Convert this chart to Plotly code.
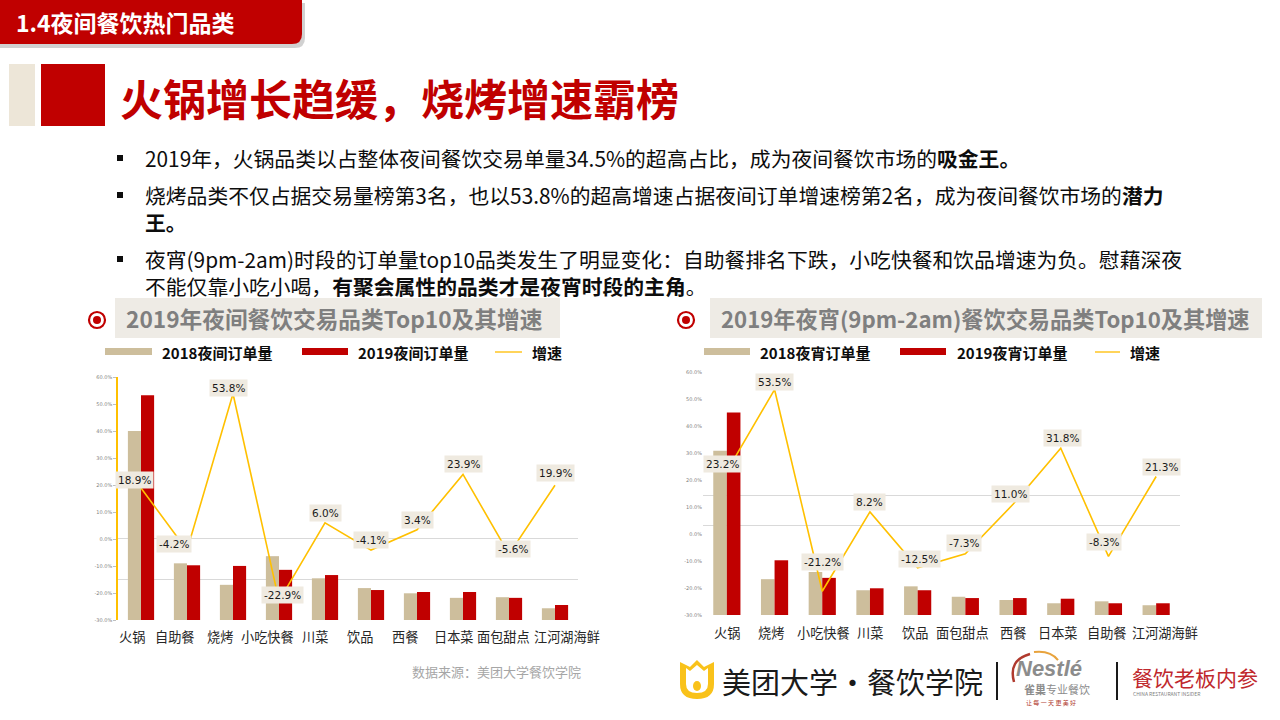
import plotly.graph_objects as go

# ---------------- data ----------------
cats_night = ["火锅", "自助餐", "烧烤", "小吃快餐", "川菜", "饮品", "西餐", "日本菜", "面包甜点", "江河湖海鲜"]
night_2018 = [29.0, 8.7, 5.4, 9.8, 6.4, 4.9, 4.1, 3.4, 3.5, 1.8]
night_2019 = [34.5, 8.4, 8.3, 7.7, 6.9, 4.6, 4.3, 4.3, 3.4, 2.3]
night_growth = [18.9, -4.2, 53.8, -22.9, 6.0, -4.1, 3.4, 23.9, -5.6, 19.9]

cats_late = ["火锅", "烧烤", "小吃快餐", "川菜", "饮品", "面包甜点", "西餐", "日本菜", "自助餐", "江河湖海鲜"]
late_2018 = [25.2, 5.5, 6.6, 3.8, 4.4, 2.8, 2.3, 1.8, 2.1, 1.5]
late_2019 = [31.1, 8.4, 5.7, 4.1, 3.8, 2.6, 2.6, 2.5, 1.8, 1.8]
late_growth = [23.2, 53.5, -21.2, 8.2, -12.5, -7.3, 11.0, 31.8, -8.3, 21.3]

pct_ticks = [60, 50, 40, 30, 20, 10, 0, -10, -20, -30]

# label offsets (style)
night_dx = [-7, -13, -5, 3, 0, 0, 0, 0, 4, 0]
night_dy = [8, 6, 6, 6, 10, 10, 10, 10, 5, 12]
late_dx = [-4, 0, 0, 0, 2, -1, -3, 2, -4, 5]
late_dy = [7, 8, 29, 10, 9, 11, 10, 10, 14, 9]
night_cat_dx = [-9, -12, -13, -12, -10, -11, -12, -9, -6, 12]
late_cat_dx = [0, -4, 1, 0, -3, -3, 0, -3, -1, 9]

TAN = "#CDBE9C"
RED = "#C00000"
GOLD = "#FFC000"
CJK = "Noto Sans CJK SC"
W, H = 1280, 720


def px(x):
    return x / W


def py(y):
    return 1 - y / H


fig = go.Figure()

# left chart
fig.add_bar(x=cats_night, y=night_2018, name="2018夜间订单量", marker_color=TAN,
            marker_line_width=0, xaxis="x", yaxis="y")
fig.add_bar(x=cats_night, y=night_2019, name="2019夜间订单量", marker_color=RED,
            marker_line_width=0, xaxis="x", yaxis="y")
fig.add_scatter(x=cats_night, y=night_growth, name="增速", mode="lines",
                line=dict(color=GOLD, width=1.6), xaxis="x", yaxis="y2", cliponaxis=False)
# right chart
fig.add_bar(x=cats_late, y=late_2018, name="2018夜宵订单量", marker_color=TAN,
            marker_line_width=0, xaxis="x2", yaxis="y3")
fig.add_bar(x=cats_late, y=late_2019, name="2019夜宵订单量", marker_color=RED,
            marker_line_width=0, xaxis="x2", yaxis="y3")
fig.add_scatter(x=cats_late, y=late_growth, name="增速", mode="lines",
                line=dict(color=GOLD, width=1.6), xaxis="x2", yaxis="y4", cliponaxis=False)

pct_font = dict(family="DejaVu Sans", size=5, color="#7F7F7F")
common_x = dict(showline=False, ticks="", showticklabels=False, showgrid=False,
                automargin=False, tickangle=0, type="category", range=[-0.5, 9.5],
                autorange=False)

fig.update_layout(
    width=W, height=H, margin=dict(l=0, r=0, t=0, b=0, autoexpand=False),
    paper_bgcolor="white", plot_bgcolor="rgba(0,0,0,0)",
    showlegend=False, barmode="group", bargap=0.43, bargroupgap=0,
    xaxis=dict(domain=[px(118), px(578)], anchor="y", **common_x),
    yaxis=dict(domain=[py(620), py(377)], anchor="x", range=[0, 37.3],
               tickvals=[6.25, 12.5, 37.3], showticklabels=False, gridcolor="#D9D9D9",
               gridwidth=1, zeroline=False, showline=False, automargin=False),
    yaxis2=dict(overlaying="y", anchor="x", side="left", range=[-30, 60],
                tickvals=pct_ticks, ticktext=[f"{v:.1f}%" for v in pct_ticks],
                tickfont=pct_font, showgrid=False, zeroline=False, showline=True,
                linecolor=GOLD, linewidth=1.5, ticks="outside", ticklen=3,
                tickcolor="#BFBFBF", automargin=False),
    xaxis2=dict(domain=[px(703), px(1180)], anchor="y3", **common_x),
    yaxis3=dict(domain=[py(615), py(372)], anchor="x2", range=[0, 37.3],
                tickvals=[13.8, 18.4], showticklabels=False, gridcolor="#D9D9D9",
                gridwidth=1, zeroline=False, showline=False, automargin=False),
    yaxis4=dict(overlaying="y3", anchor="x2", side="left", range=[-30, 60],
                tickvals=pct_ticks, ticktext=[f"{v:.1f}%" for v in pct_ticks],
                tickfont=pct_font, showgrid=False, zeroline=False, showline=False,
                ticks="", automargin=False),
)

ann = []
shapes = []

# data labels
lab_font = dict(family="DejaVu Sans", size=10.5, color="#1a1a1a")
for c, v, dx, dy in zip(cats_night, night_growth, night_dx, night_dy):
    ann.append(dict(x=c, y=v, xref="x", yref="y2", text=f"{v:.1f}%", showarrow=False,
                    xshift=dx, yshift=dy, bgcolor="#EFEAE0", borderpad=2, font=lab_font))
for c, v, dx, dy in zip(cats_late, late_growth, late_dx, late_dy):
    ann.append(dict(x=c, y=v, xref="x2", yref="y4", text=f"{v:.1f}%", showarrow=False,
                    xshift=dx, yshift=dy, bgcolor="#EFEAE0", borderpad=2, font=lab_font))

# category labels (placed at the categories through the axes)
cat_font = dict(family=CJK, size=13.2, color="#262626")
for c, dx in zip(cats_night, night_cat_dx):
    ann.append(dict(x=c, y=py(636), xref="x", yref="paper", text=c, showarrow=False,
                    xshift=dx, yanchor="middle", font=cat_font))
for c, dx in zip(cats_late, late_cat_dx):
    ann.append(dict(x=c, y=py(632), xref="x2", yref="paper", text=c, showarrow=False,
                    xshift=dx, yanchor="middle", font=cat_font))


def text(x, y, s, size, color="#0D0D0D", anchor="left", family=CJK, **kw):
    ann.append(dict(x=px(x), y=py(y), xref="paper", yref="paper", text=s,
                    showarrow=False, xanchor=anchor, yanchor="middle", align="left",
                    font=dict(family=family, size=size, color=color), **kw))


def rect(x0, y0, x1, y1, fill, line=None, lw=0, layer="below"):
    shapes.append(dict(type="rect", xref="paper", yref="paper", x0=px(x0), x1=px(x1),
                       y0=py(y1), y1=py(y0), fillcolor=fill,
                       line=dict(color=line or fill, width=lw), layer=layer))


def path(pts_str, fill, line=None, lw=0, layer="above"):
    shapes.append(dict(type="path", xref="paper", yref="paper", path=pts_str,
                       fillcolor=fill, line=dict(color=line or fill, width=lw), layer=layer))


def P(x, y):
    return f"{px(x):.5f},{py(y):.5f}"


# top banner with shadow
path(f"M{P(0,3)} L{P(305,3)} L{P(305,38)} Q{P(305,48)} {P(295,48)} L{P(0,48)} Z",
     "rgba(0,0,0,0.18)", layer="below")
path(f"M{P(0,0)} L{P(302,0)} L{P(302,34)} Q{P(302,44)} {P(292,44)} L{P(0,44)} Z",
     RED, layer="below")
text(14, 22, "<b>1.4夜间餐饮热门品类</b>", 23, color="white")

# title block
rect(9, 64, 35, 126, "#EDE6D8")
rect(41, 64, 105, 126, RED)
text(118, 97, "<b>火锅增长趋缓，烧烤增速霸榜</b>", 43, color=RED)

# bullets (multi-line paragraphs as one text each)
bullets = [
    (158, 158, "2019年，火锅品类以占整体夜间餐饮交易单量34.5%的超高占比，成为夜间餐饮市场的<b>吸金王。</b>"),
    (208.5, 195, "烧烤品类不仅占据交易量榜第3名，也以53.8%的超高增速占据夜间订单增速榜第2名，成为夜间餐饮市场的<b>潜力</b><br><b>王。</b>"),
    (272, 259, "夜宵(9pm-2am)时段的订单量top10品类发生了明显变化：自助餐排名下跌，小吃快餐和饮品增速为负。慰藉深夜<br>不能仅靠小吃小喝，<b>有聚会属性的品类才是夜宵时段的主角</b>。"),
]
for yc, yb, s in bullets:
    rect(117, yb - 3, 123, yb + 3, "#0D0D0D", layer="above")
    text(143, yc, s, 20.8)

# section titles
for (bx0, bx1, cx, s, fs) in [(115, 560, 97, "<b>2019年夜间餐饮交易品类Top10及其增速</b>", 22.7),
                              (710, 1262, 686, "<b>2019年夜宵(9pm-2am)餐饮交易品类Top10及其增速</b>", 22.2)]:
    rect(bx0, 298, bx1, 338, "#EEEBE5")
    text(bx0 + 9, 318, s, fs, color="#7F7F7F")
    shapes.append(dict(type="circle", xref="paper", yref="paper",
                       x0=px(cx - 8), x1=px(cx + 8), y0=py(328), y1=py(312),
                       line=dict(color=RED, width=2.2), fillcolor="white"))
    shapes.append(dict(type="circle", xref="paper", yref="paper",
                       x0=px(cx - 4), x1=px(cx + 4), y0=py(324), y1=py(316),
                       line=dict(color=RED, width=0), fillcolor=RED))

# custom legends
for (t0, t1, txt1, r0, r1, txt2, g0, g1, n1, n2) in [
        (105, 152, 160, 302, 348, 356, 495, 522, "2018夜间订单量", "2019夜间订单量"),
        (704, 750, 758, 900, 946, 955, 1095, 1120, "2018夜宵订单量", "2019夜宵订单量")]:
    rect(t0, 348, t1, 355, TAN, layer="above")
    text(txt1, 352, f"<b>{n1}</b>", 15)
    rect(r0, 348, r1, 355, RED, layer="above")
    text(txt2, 352, f"<b>{n2}</b>", 15)
    shapes.append(dict(type="line", xref="paper", yref="paper", x0=px(g0), x1=px(g1),
                       y0=py(352), y1=py(352), line=dict(color="#FFD45A", width=2)))
    text(g1 + 8, 352, "<b>增速</b>", 15)

# source
text(410, 671, "数据来源：美团大学餐饮学院", 13, color="#A6A6A6")

# bottom logos
path(f"M{P(680,662)} L{P(690,667)} L{P(697,660)} L{P(704,667)} L{P(714,662)} "
     f"L{P(714,684)} Q{P(714,699)} {P(697,699)} Q{P(680,699)} {P(680,684)} Z", "#F9C21A")
path(f"M{P(686,668)} L{P(686,684)} Q{P(686,693)} {P(697,693)} Q{P(708,693)} {P(708,684)} "
     f"L{P(708,668)} L{P(704,671)} L{P(697,665)} L{P(690,671)} Z", "white")
shapes.append(dict(type="circle", xref="paper", yref="paper", x0=px(693), x1=px(701),
                   y0=py(691), y1=py(681), fillcolor="#F9C21A", line=dict(width=0)))
text(720, 681, "美团大学·餐饮学院", 29, color="#1a1a1a")
for xv in (997, 1117):
    shapes.append(dict(type="line", xref="paper", yref="paper", x0=px(xv), x1=px(xv),
                       y0=py(700), y1=py(662), line=dict(color="#1a1a1a", width=2)))
path(f"M{P(1030,654)} Q{P(1008,660)} {P(1014,682)}", "rgba(0,0,0,0)", line="#B03A2E", lw=2.5)
path(f"M{P(1034,652)} Q{P(1050,650)} {P(1058,660)}", "rgba(0,0,0,0)", line="#E8A33D", lw=2)
text(1014, 668, "<b><i>Nestlé</i></b>", 22, color="#8C8C8C", family="Liberation Sans")
text(1022, 689, "<b>雀巢</b>专业餐饮", 11, color="#8C8C8C")
text(1024, 702, "让 每 一 天 更 美 好", 6, color="#B03A2E")
text(1130, 677, "餐饮老板内参", 21, color="#C0282D")
text(1131, 693, "CHINA RESTAURANT INSIDER", 5, color="#7F7F7F")

fig.update_layout(annotations=ann, shapes=shapes)

fig.write_html("out.html", config={"displayModeBar": False},
               post_script="document.body.style.margin='0';document.body.style.overflow='hidden';")
